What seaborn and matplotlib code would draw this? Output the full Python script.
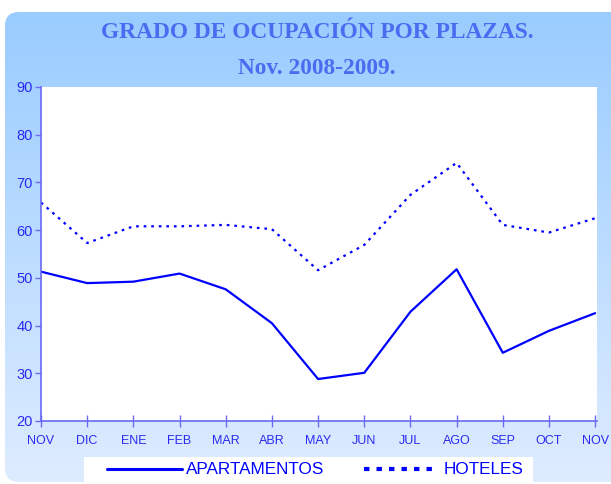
import matplotlib
matplotlib.use("Agg")
import matplotlib.pyplot as plt
import numpy as np
import pandas as pd
import seaborn as sns
from matplotlib.lines import Line2D
from matplotlib.patches import FancyBboxPatch, Rectangle

# Data
months = ["NOV", "DIC", "ENE", "FEB", "MAR", "ABR", "MAY",
          "JUN", "JUL", "AGO", "SEP", "OCT", "NOV"]
apartamentos = [51.3, 48.9, 49.2, 50.9, 47.6, 40.5, 28.8,
                30.1, 42.9, 51.8, 34.3, 38.9, 42.6]
hoteles = [65.8, 57.3, 60.8, 60.8, 61.1, 60.2, 51.6,
           56.9, 67.4, 74.1, 61.1, 59.5, 62.5]
yticks = [20, 30, 40, 50, 60, 70, 80, 90]

sns.set_style("white")
plt.rcParams["font.family"] = ["Liberation Sans", "DejaVu Sans"]

df = pd.DataFrame({
    "pos": list(range(len(months))) * 2,
    "valor": apartamentos + hoteles,
    "serie": ["APARTAMENTOS"] * len(months) + ["HOTELES"] * len(months),
})

W, H = 611, 484
fig = plt.figure(figsize=(W / 100, H / 100), dpi=100)

# Background panel: rounded box with a vertical blue gradient
bg = fig.add_axes([0, 0, 1, 1])
bg.set_xlim(0, W)
bg.set_ylim(H, 0)
bg.axis("off")
top = np.array([153, 204, 255]) / 255
bottom = np.array([222, 236, 255]) / 255
t = np.linspace(0, 1, 256)[:, None]
grad = (top * (1 - t) + bottom * t)[:, None, :]
img = bg.imshow(grad, extent=[5, 625, 482, 12], aspect="auto", zorder=0)
panel = FancyBboxPatch((5, 12), 620, 470, boxstyle="round,pad=0,rounding_size=14",
                       facecolor="none", edgecolor="none", transform=bg.transData)
bg.add_patch(panel)
img.set_clip_path(panel)
# white legend box at the bottom
bg.add_patch(Rectangle((84, 457), 449, 30, facecolor="white", edgecolor="none", zorder=1))

title_color = "#4a6cf0"
fig.text(317 / W, 1 - 32 / H, "GRADO DE OCUPACIÓN POR PLAZAS.", ha="center", va="center",
         fontsize=16.8, fontweight="bold", color=title_color, family="Liberation Serif")
fig.text(317 / W, 1 - 68 / H, "Nov. 2008-2009.", ha="center", va="center",
         fontsize=16.8, fontweight="bold", color=title_color, family="Liberation Serif")

ax = fig.add_axes([41 / W, 1 - 421 / H, (597 - 41) / W, (421 - 87) / H])
ax.set_facecolor("white")

sns.lineplot(data=df, x="pos", y="valor", hue="serie", style="serie",
             palette={"APARTAMENTOS": "#0000ff", "HOTELES": "#0000ff"},
             dashes={"APARTAMENTOS": "", "HOTELES": (1.2, 2.2)},
             linewidth=1.6, legend=False, ax=ax)

ax.set_xlim(0, 12.04)
ax.set_ylim(20, 90)
ax.set_xticks(range(len(months)))
ax.set_xticklabels(months)
ax.set_yticks(yticks)
ax.set_xlabel("")
ax.set_ylabel("")

axis_color = "#6a6af5"
label_color = "#2a2af0"
for side in ["top", "right"]:
    ax.spines[side].set_visible(False)
for side in ["left", "bottom"]:
    ax.spines[side].set_color(axis_color)
    ax.spines[side].set_linewidth(1.2)
ax.tick_params(axis="x", direction="inout", length=8, width=1, color=axis_color,
               labelcolor=label_color, labelsize=9, pad=6, bottom=True)
ax.tick_params(axis="y", direction="out", length=4, width=1, color=axis_color,
               labelcolor=label_color, labelsize=10.5, pad=2, left=True)

# Legend
handles = [
    Line2D([], [], color="#0000ff", linewidth=2.2),
    Line2D([], [], color="#0000ff", linewidth=3, dashes=(1.3, 1.7)),
]
leg = fig.legend(handles, ["APARTAMENTOS", "HOTELES"], ncol=2,
                 loc="center left", bbox_to_anchor=(107 / W, 1 - 470 / H),
                 frameon=False, fontsize=12.3,
                 handlelength=4.4, handletextpad=0.25, columnspacing=2.3,
                 borderpad=0, borderaxespad=0)
for txt in leg.get_texts():
    txt.set_color("#0000ff")

fig.savefig("out.png", dpi=100)
